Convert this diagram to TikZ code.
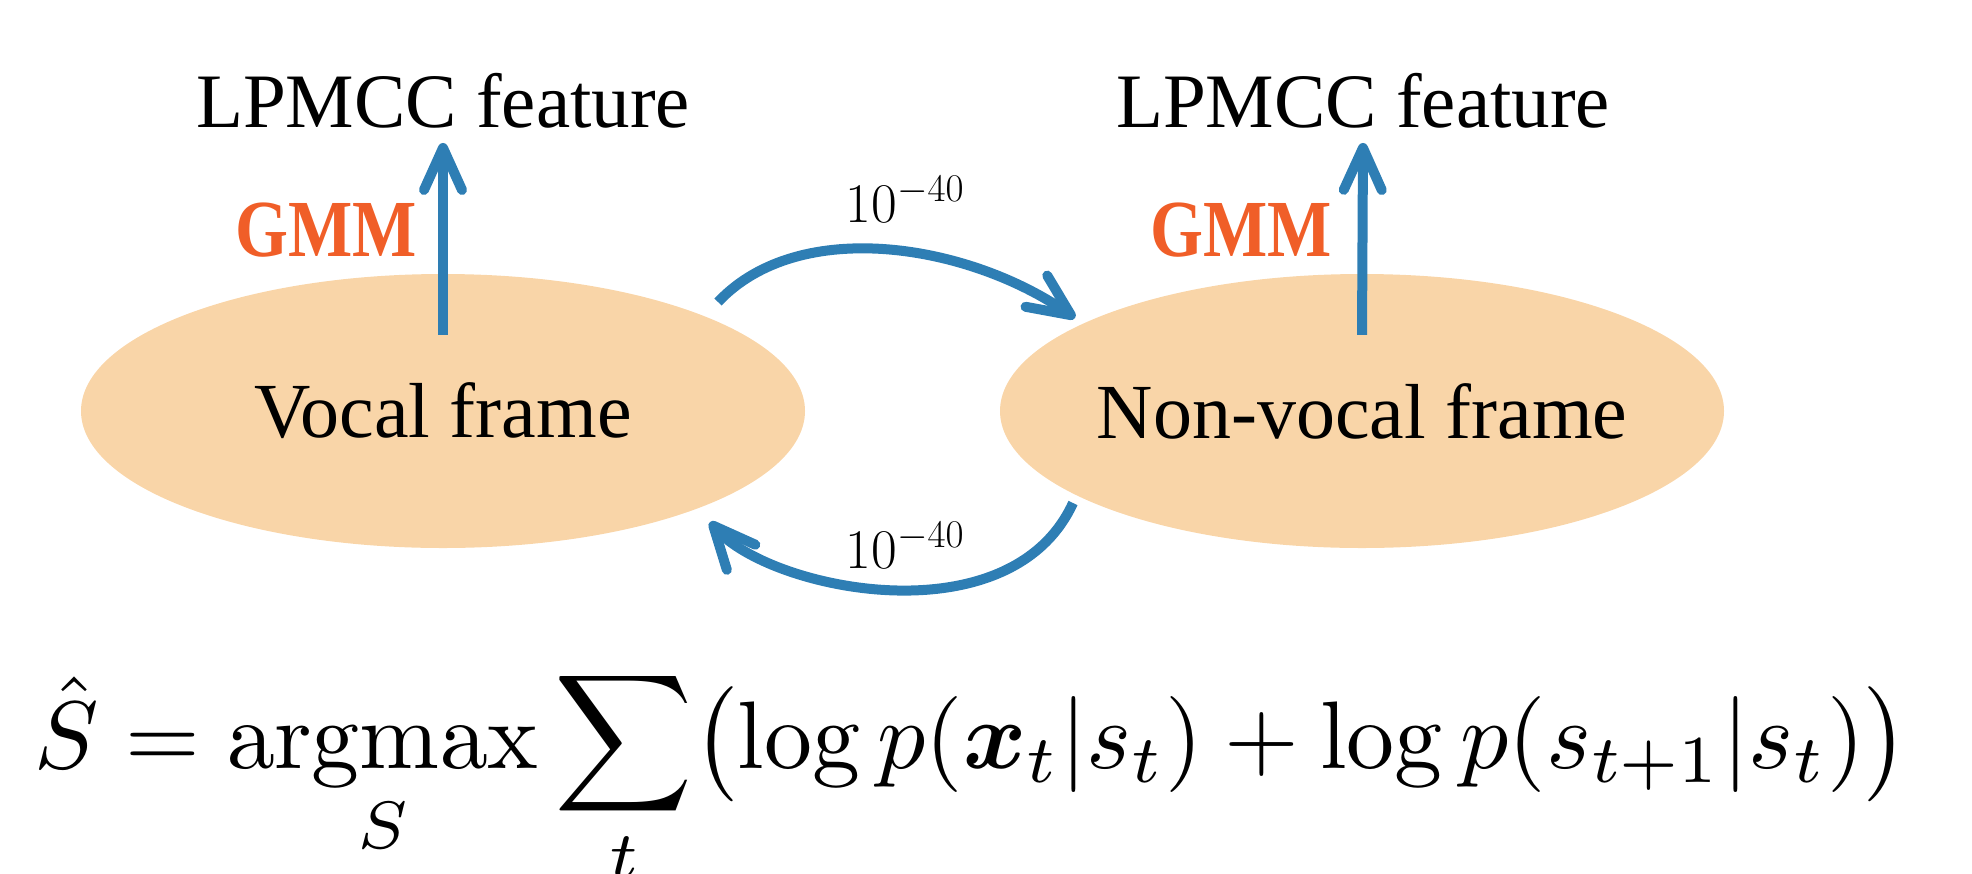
\RequirePackage{fix-cm}
\documentclass[tikz,border=0pt]{standalone}
\usepackage{amsmath,bm}
\usepackage[no-math]{fontspec}
\setmainfont{Liberation Serif}
\usetikzlibrary{arrows.meta,shapes.geometric}
\definecolor{ellfill}{RGB}{249,213,168}
\definecolor{arrblue}{RGB}{46,126,180}
\definecolor{gmmred}{RGB}{240,94,40}
\tikzset{
  statenode/.style={ellipse, fill=ellfill, minimum width=724pt, minimum height=274pt, inner sep=0pt},
  statetext/.style={inner sep=0pt, font=\fontsize{78}{90}\selectfont},
  featnode/.style={inner sep=0pt, anchor=base, font=\fontsize{77}{90}\selectfont},
  gmmnode/.style={inner sep=0pt, anchor=base, text=gmmred, font=\fontsize{81}{90}\selectfont\bfseries},
  probnode/.style={inner sep=0pt, anchor=base, font=\fontsize{56}{64}\selectfont},
  flowarrow/.style={draw=arrblue, line width=10pt,
    -{Straight Barb[length=42pt, width=38pt, line cap=round, line join=round]}},
}
\begin{document}
\begin{tikzpicture}[x=1pt, y=-1pt]
\useasboundingbox (0,0) rectangle (1972,873);
\node[statenode] (vocal) at (443,411) {};
\node[statenode] (nonvocal) at (1362,411) {};
\node[statetext] (vt) at (vocal.center) {Vocal frame};
\node[statetext] (nt) at (nonvocal.center) {Non-vocal frame};
\node[featnode] (f1) at (443,127) {LPMCC feature};
\node[featnode] (f2) at (1363,127) {LPMCC feature};
\node[gmmnode] (g1) at (326,256) {\scalebox{0.84}[1]{GMM}};
\node[gmmnode] (g2) at (1241,256) {\scalebox{0.84}[1]{GMM}};
\draw[flowarrow] ([yshift=-61pt]vocal.north) -- ([yshift=-15pt]f1.south);
\draw[flowarrow] ([yshift=-61pt]nonvocal.north) -- ([yshift=-15pt]f2.south);
\coordinate (t1) at (718,302);
\coordinate (t2) at (1075,318);
\coordinate (b1) at (1073,503);
\coordinate (b2) at (710,522);
\draw[flowarrow] (t1) .. controls (800,215) and (970,245) .. (t2);
\draw[flowarrow] (b1) .. controls (1010,640) and (770,590) .. (b2);
\node[probnode] (p1) at (905,222) {$10^{-40}$};
\node[probnode] (p2) at (905,568) {$10^{-40}$};
\node[anchor=base west, inner sep=0pt] (eq) at (34,768) {\scalebox{9.6}{\fontsize{10}{12}\selectfont
  $\displaystyle \hat{S} = \operatorname*{argmax}_{S} \sum_{t} \bigl(\log p(\bm{x}_t | s_t) + \log p(s_{t+1} | s_t)\bigr)$}};
\end{tikzpicture}
\end{document}
